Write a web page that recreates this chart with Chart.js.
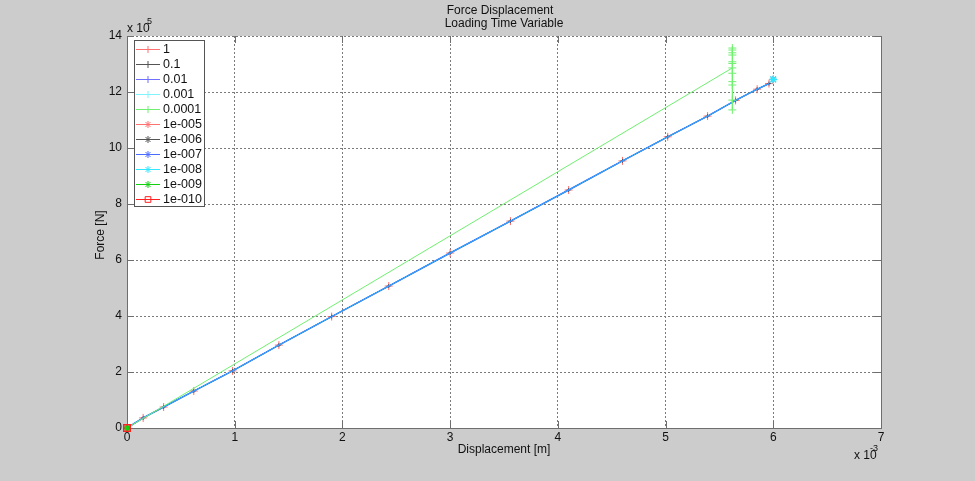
<!DOCTYPE html>
<html>
<head>
<meta charset="utf-8">
<title>Force Displacement</title>
<script src="https://cdn.jsdelivr.net/npm/chart.js"></script>
<style>
  html, body { margin: 0; padding: 0; background: #cccccc; }
  canvas { display: block; }
</style>
</head>
<body>
<canvas id="forceChart" width="975" height="481"></canvas>
<script>
// values: displacement in x10^-3 m, force in x10^5 N
const seriesLabels = ["1", "0.1", "0.01", "0.001", "0.0001", "1e-005", "1e-006", "1e-007", "1e-008", "1e-009", "1e-010"];

const dispMain  = [0, 0.15, 0.34, 0.62, 0.98, 1.41, 1.90, 2.43, 3.00, 3.56, 4.10, 4.60, 5.02, 5.39, 5.65, 5.85, 5.96];
const forceMain = [0, 0.36, 0.75, 1.32, 2.04, 2.96, 3.98, 5.07, 6.25, 7.39, 8.50, 9.54, 10.40, 11.14, 11.70, 12.10, 12.30];

const dispLine  = [0, 6.00];
const forceLine = [0, 12.45];

const dispGreen  = [0, 5.62, 5.62, 5.62, 5.62, 5.62, 5.62, 5.62, 5.62, 5.62, 5.62, 5.62, 5.62];
const forceGreen = [0, 12.86, 13.50, 12.67, 13.40, 12.37, 13.32, 11.71, 13.08, 11.36, 13.02, 12.25, 13.57];

const dispOrigin  = [0];
const forceOrigin = [0];

const xTicks = [0, 1, 2, 3, 4, 5, 6, 7];
const yTicks = [0, 2, 4, 6, 8, 10, 12, 14];

const FONT = "'Liberation Sans', Arial, sans-serif";

function toPoints(xs, ys) {
    return xs.map((x, i) => ({ x: x, y: ys[i] }));
}

function series(label, xs, ys, color, style, radius, extra) {
    return Object.assign({
        label: label,
        data: toPoints(xs, ys),
        borderColor: color,
        backgroundColor: "rgba(0,0,0,0)",
        borderWidth: 1,
        pointStyle: style,
        pointRadius: radius,
        pointBorderColor: color,
        pointBorderWidth: 1,
        legendColor: color,
        legendRadius: 3.5,
        showLine: true,
        tension: 0
    }, extra || {});
}

const datasets = [
    series(seriesLabels[0], dispMain, forceMain, "#ff7070", "cross", 4),
    series(seriesLabels[1], dispMain, forceMain, "#555555", "cross", 2),
    series(seriesLabels[2], dispMain, forceMain, "#3f6cff", "cross", 0, { borderWidth: 1.5, legendColor: "#7070ff" }),
    series(seriesLabels[3], dispMain, forceMain, "rgba(30,200,255,0.75)", "cross", 0, { legendColor: "#80f4ff" }),
    series(seriesLabels[4], dispGreen, forceGreen, "#70f070", "cross", 4),
    series(seriesLabels[5], dispLine, forceLine, "#ff7070", "star", 3.5, { borderWidth: 0.01 }),
    series(seriesLabels[6], dispLine, forceLine, "#555555", "star", 3.5, { borderWidth: 0.01 }),
    series(seriesLabels[7], dispLine, forceLine, "#4a6cff", "star", 3.5, { borderWidth: 0.01 }),
    series(seriesLabels[8], dispLine, forceLine, "#30e8ff", "star", 4, { borderWidth: 0.01, pointBorderWidth: 1.5 }),
    series(seriesLabels[9], dispOrigin, forceOrigin, "#10d010", "star", 3, { pointBorderWidth: 2, clip: false }),
    series(seriesLabels[10], dispOrigin, forceOrigin, "#ff2020", "rect", 4.6, { pointBorderWidth: 1.5, clip: false, legendRadius: 4 })
];
// MATLAB draws later series on top
datasets.forEach((ds, i) => { ds.order = datasets.length - i; });

const matlabFrame = {
    id: "matlabFrame",
    beforeDraw(chart) {
        const { ctx, chartArea: a } = chart;
        ctx.save();
        ctx.fillStyle = "#cccccc";
        ctx.fillRect(0, 0, chart.width, chart.height);
        ctx.fillStyle = "#ffffff";
        ctx.fillRect(a.left, a.top, a.right - a.left, a.bottom - a.top);
        ctx.restore();
    },
    beforeDatasetsDraw(chart) {
        const { ctx, chartArea: a, scales } = chart;
        ctx.save();
        ctx.strokeStyle = "#6e6e6e";
        ctx.lineWidth = 1;
        ctx.beginPath();
        // right edge
        ctx.moveTo(a.right + 0.5, a.top);
        ctx.lineTo(a.right + 0.5, a.bottom);
        // inward ticks on all four sides
        xTicks.forEach(v => {
            const px = Math.round(scales.x.getPixelForValue(v)) + 0.5;
            ctx.moveTo(px, a.bottom); ctx.lineTo(px, a.bottom - 7);
            ctx.moveTo(px, a.top); ctx.lineTo(px, a.top + 7);
        });
        yTicks.forEach(v => {
            const py = Math.round(scales.y.getPixelForValue(v)) + 0.5;
            ctx.moveTo(a.left, py); ctx.lineTo(a.left + 7, py);
            ctx.moveTo(a.right, py); ctx.lineTo(a.right - 7, py);
        });
        ctx.stroke();
        ctx.restore();
    },
    afterDraw(chart) {
        const { ctx, chartArea: a } = chart;
        ctx.save();
        ctx.fillStyle = "#111111";
        ctx.font = "12px " + FONT;
        ctx.textBaseline = "middle";
        ctx.textAlign = "center";
        ctx.fillText("Force Displacement", 500, 11);
        ctx.fillText("Loading Time Variable", 504, 24);
        ctx.fillText("Displacement [m]", (a.left + a.right) / 2, 450);

        ctx.save();
        ctx.translate(101, 235);
        ctx.rotate(-Math.PI / 2);
        ctx.fillText("Force [N]", 0, 0);
        ctx.restore();

        // exponent labels
        ctx.textAlign = "left";
        ctx.fillText("x 10", a.left, 29);
        ctx.fillText("x 10", 854, 456);
        ctx.font = "9px " + FONT;
        ctx.fillText("5", a.left + 20, 22);
        ctx.fillText("-3", 870, 449);

        // legend box
        const lx = 134, ly = 40, lw = 70, rowH = 15;
        const rows = chart.data.datasets.length;
        ctx.fillStyle = "#ffffff";
        ctx.fillRect(lx, ly, lw, rows * rowH + 1);
        ctx.strokeStyle = "#555555";
        ctx.lineWidth = 1;
        ctx.strokeRect(lx + 0.5, ly + 0.5, lw, rows * rowH + 1);
        ctx.font = "12.5px " + FONT;
        chart.data.datasets.forEach((ds, i) => {
            const y = Math.round(ly + 9 + i * rowH) + 0.5;
            ctx.strokeStyle = ds.legendColor;
            ctx.lineWidth = 1;
            ctx.beginPath();
            ctx.moveTo(136, y);
            ctx.lineTo(160, y);
            ctx.stroke();
            ctx.fillStyle = "rgba(0,0,0,0)";
            Chart.helpers.drawPoint(ctx, {
                pointStyle: ds.pointStyle,
                radius: ds.legendRadius,
                rotation: 0,
                borderWidth: 1
            }, 148, y);
            ctx.fillStyle = "#111111";
            ctx.textAlign = "left";
            ctx.fillText(ds.label, 163, y);
        });
        ctx.restore();
    }
};

new Chart(document.getElementById("forceChart"), {
    type: "scatter",
    data: { datasets: datasets },
    options: {
        responsive: false,
        animation: false,
        devicePixelRatio: 1,
        layout: { padding: { top: 36, right: 94, left: 0, bottom: 0 } },
        plugins: {
            legend: { display: false },
            title: { display: false },
            tooltip: { enabled: false }
        },
        scales: {
            x: {
                type: "linear",
                min: 0,
                max: 7,
                afterFit: s => { s.height = 53; },
                afterBuildTicks: s => { s.ticks = xTicks.map(v => ({ value: v })); },
                ticks: { color: "#111111", font: { family: FONT, size: 12 }, padding: 2, maxRotation: 0 },
                grid: { color: "#7a7a7a", drawTicks: false, lineWidth: 1 },
                border: { display: true, color: "#6e6e6e", dash: [2, 2] }
            },
            y: {
                type: "linear",
                min: 0,
                max: 14,
                afterFit: s => { s.width = 127; },
                afterBuildTicks: s => { s.ticks = yTicks.map(v => ({ value: v })); },
                ticks: { color: "#111111", font: { family: FONT, size: 12 }, padding: 5 },
                grid: { color: "#7a7a7a", drawTicks: false, lineWidth: 1 },
                border: { display: true, color: "#6e6e6e", dash: [2, 2] }
            }
        }
    },
    plugins: [matlabFrame]
});
</script>
</body>
</html>
